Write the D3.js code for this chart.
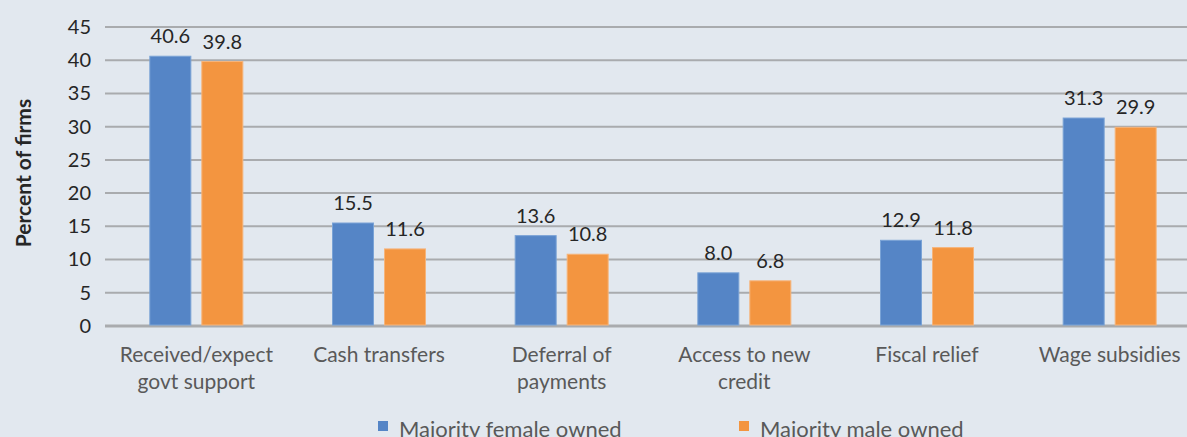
<!DOCTYPE html>
<html>
<head>
<meta charset="utf-8">
<script src="https://cdn.jsdelivr.net/npm/d3@7"></script>
<style>
  body { margin: 0; background: #e2e8ef; }
  svg { display: block; font-family: Lato, "Open Sans", sans-serif; }
</style>
</head>
<body>
<svg id="chart" width="1187" height="437"></svg>
<script>
// categories (two lines each, as in the picture)
var categories = ["Received/expect govt support", "Cash transfers", "Deferral of payments",
                  "Access to new credit", "Fiscal relief", "Wage subsidies"];
var catLines = [["Received/expect", "govt support"], ["Cash transfers"], ["Deferral of", "payments"],
                ["Access to new", "credit"], ["Fiscal relief"], ["Wage subsidies"]];
var femaleOwned = [40.6, 15.5, 13.6, 8.0, 12.9, 31.3];
var maleOwned = [39.8, 11.6, 10.8, 6.8, 11.8, 29.9];
var seriesNames = ["Majority female owned", "Majority male owned"];
var colors = ["#5585c6", "#f39540"];
var yTicks = [0, 5, 10, 15, 20, 25, 30, 35, 40, 45];

var svg = d3.select("#chart");
var plotLeft = 105, plotRight = 1201, plotTop = 27, plotBottom = 326;

var x = d3.scaleBand().domain(categories).range([plotLeft, plotRight]);
var y = d3.scaleLinear().domain([0, 45]).range([plotBottom, plotTop]);

// gridlines
svg.append("g").selectAll("line")
  .data(yTicks).enter()
  .append("line")
  .attr("x1", plotLeft).attr("x2", plotRight)
  .attr("y1", function(d) { return y(d); })
  .attr("y2", function(d) { return y(d); })
  .attr("stroke", "#a9abae")
  .attr("stroke-width", function(d) { return d == 0 ? 3 : 2; });

// y axis labels
var yAxis = d3.axisLeft(y).tickValues(yTicks).tickSize(0).tickPadding(0);
var gy = svg.append("g").attr("transform", "translate(91,0)").call(yAxis);
gy.select(".domain").remove();
gy.selectAll("text")
  .attr("font-size", 20).attr("fill", "#262626")
  .attr("font-family", "Lato, sans-serif");

// axis title
svg.append("text")
  .attr("transform", "translate(31,173) rotate(-90)")
  .attr("text-anchor", "middle")
  .attr("font-size", 21).attr("font-weight", "bold")
  .attr("fill", "#262626")
  .text("Percent of firms");

// bars
var barW = 41, gap = 11;
var series = [femaleOwned, maleOwned];
series.forEach(function(vals, s) {
  var g = svg.append("g");
  var off = s == 0 ? -(gap / 2 + barW) : gap / 2;
  g.selectAll("rect")
    .data(vals).enter()
    .append("rect")
    .attr("x", function(d, i) { return x(categories[i]) + x.bandwidth() / 2 + off; })
    .attr("y", function(d) { return y(d); })
    .attr("width", barW)
    .attr("height", function(d) { return y(0) - y(d) - 1; })
    .attr("fill", colors[s])
    .attr("stroke", s == 0 ? "#7aa3d6" : "#f6b47a")
    .attr("stroke-width", 1);
  g.selectAll("text")
    .data(vals).enter()
    .append("text")
    .attr("x", function(d, i) { return x(categories[i]) + x.bandwidth() / 2 + off + barW / 2; })
    .attr("y", function(d) { return y(d) - 13; })
    .attr("text-anchor", "middle")
    .attr("font-size", 20).attr("fill", "#262626")
    .text(function(d) { return d.toFixed(1); });
});

// category labels
var gx = svg.append("g");
catLines.forEach(function(lines, i) {
  var t = gx.append("text")
    .attr("text-anchor", "middle")
    .attr("font-size", 21).attr("fill", "#595959");
  lines.forEach(function(l, j) {
    t.append("tspan")
      .attr("x", x(categories[i]) + x.bandwidth() / 2)
      .attr("y", 362 + j * 27)
      .text(l);
  });
});

// legend
var legendX = [378, 739];
seriesNames.forEach(function(name, s) {
  svg.append("rect")
    .attr("x", legendX[s]).attr("y", 421)
    .attr("width", 10).attr("height", 10)
    .attr("fill", colors[s]);
  svg.append("text")
    .attr("x", legendX[s] + 21).attr("y", 437)
    .attr("font-size", 22).attr("fill", "#595959")
    .text(name);
});
</script>
</body>
</html>
